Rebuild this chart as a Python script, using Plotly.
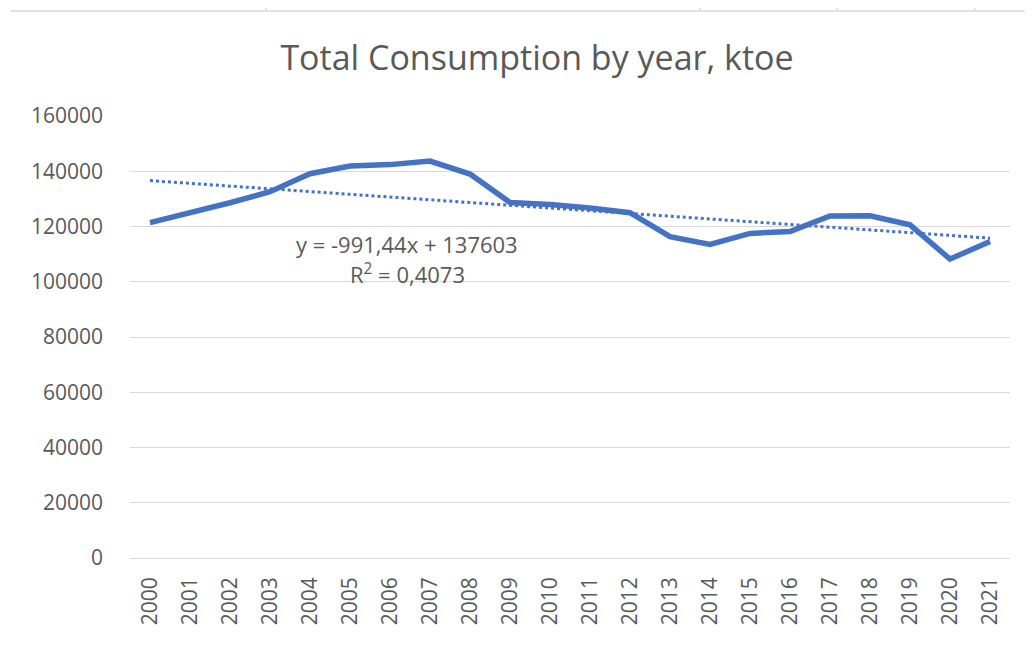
import plotly.graph_objects as go

years = [str(y) for y in range(2000, 2022)]
consumption = [121400, 124900, 128600, 132600, 139100, 141900, 142400, 143700,
               139000, 128700, 128000, 126700, 125000, 116300, 113500, 117500,
               118200, 123800, 123900, 120600, 108200, 114600]
trend_slope = -991.44
trend_intercept = 137603
trend_eq = "y = -991,44x + 137603"
trend_r2 = "R<sup>2</sup> = 0,4073"
y_ticks = [0, 20000, 40000, 60000, 80000, 100000, 120000, 140000, 160000]

trend = [trend_slope * (i + 1) + trend_intercept for i in range(len(years))]

OFF = 8  # page body margin
W, H = 1033 - OFF, 645 - OFF
L, R, T, B = 130 - OFF, 23, 116 - OFF, 87
pw, ph = W - L - R, H - T - B

def px(xp):
    return (xp - OFF - L) / pw

def py(yp):
    return (H - B - (yp - OFF)) / ph

blue = "#4472C4"
grey_text = "#595959"
font = "Open Sans"

fig = go.Figure()
fig.add_trace(go.Scatter(x=years, y=consumption, mode="lines",
                         line=dict(color=blue, width=5.5), showlegend=False))
fig.add_trace(go.Scatter(x=years, y=trend, mode="lines",
                         line=dict(color=blue, width=3, dash="dot"), showlegend=False))

shapes = [dict(type="line", xref="paper", yref="paper", x0=px(10), x1=px(1033),
               y0=py(11), y1=py(11), line=dict(color="#e2e2e2", width=2))]
for xv in [266, 700, 837, 975]:
    shapes.append(dict(type="line", xref="paper", yref="paper", x0=px(xv), x1=px(xv),
                       y0=py(OFF), y1=py(11), line=dict(color="#e2e2e2", width=2)))

fig.update_layout(
    width=W, height=H,
    margin=dict(l=L, r=R, t=T, b=B, autoexpand=False),
    paper_bgcolor="white", plot_bgcolor="white",
    title=dict(text="Total Consumption by year, ktoe", x=(537 - OFF) / W, xref="container",
               xanchor="center", y=1 - (58 - OFF) / H, yref="container", yanchor="middle",
               font=dict(family=font, size=34, color=grey_text)),
    xaxis=dict(type="category", range=[-0.5, len(years) - 0.5], tickangle=-90,
               showgrid=False, zeroline=False, showline=False, ticks="",
               ticklabelstandoff=14, automargin=False,
               tickfont=dict(family=font, size=21, color=grey_text)),
    yaxis=dict(range=[0, 160000], tickvals=y_ticks, ticktext=[str(v) for v in y_ticks],
               showgrid=True, gridcolor="#d9d9d9", gridwidth=1, zeroline=True,
               zerolinecolor="#d9d9d9", zerolinewidth=1, showline=False, ticks="",
               ticklabelstandoff=26, automargin=False,
               tickfont=dict(family=font, size=21, color=grey_text)),
    shapes=shapes,
    annotations=[
        dict(text=trend_eq, xref="paper", yref="paper", x=px(407), y=py(244),
             xanchor="center", yanchor="middle", showarrow=False,
             font=dict(family=font, size=22, color=grey_text)),
        dict(text=trend_r2, xref="paper", yref="paper", x=px(407), y=py(273),
             xanchor="center", yanchor="middle", showarrow=False,
             font=dict(family=font, size=22, color=grey_text)),
    ],
)

fig.write_html("out.html")
